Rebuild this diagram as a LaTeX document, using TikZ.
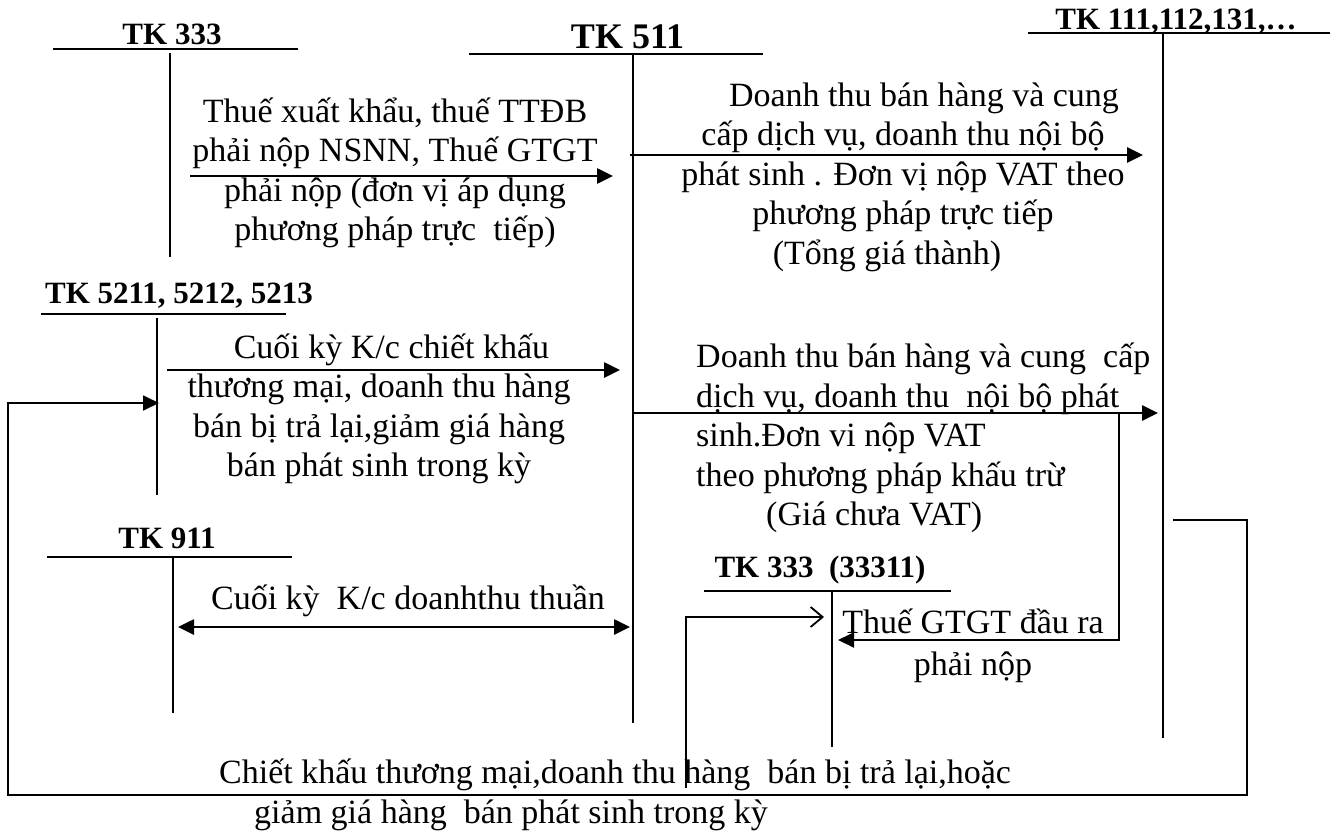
\documentclass[tikz,border=0pt]{standalone}
\usepackage{fontspec}
\setmainfont{Liberation Serif}
\usetikzlibrary{arrows.meta}
\begin{document}
\begin{tikzpicture}[x=1pt,y=-1pt,
  tline/.style={line width=2.6pt},
  aline/.style={line width=2.6pt,-{Triangle[length=16pt,width=15pt]}},
  dline/.style={line width=2.6pt,{Triangle[length=16pt,width=15pt]}-{Triangle[length=16pt,width=15pt]}},
  thinline/.style={line width=1.8pt},
  title/.style={font=\fontsize{31}{36}\selectfont\bfseries,anchor=base,inner sep=0pt},
  body/.style={font=\fontsize{34}{39.5}\selectfont,inner sep=0pt},
]
\useasboundingbox (0,0) rectangle (1331,832);

% ---- account titles
\node[title] (t333) at (172,45) {TK 333};
\node[title,font=\fontsize{36}{40}\selectfont\bfseries] (t511) at (627.5,49) {TK 511};
\node[title] (t111) at (1176,30) {TK 111,112,131,…};
\node[title] (t521) at (179,303) {TK 5211, 5212, 5213};
\node[title] (t911) at (167,548) {TK 911};
\node[title] (t3331) at (820,577) {TK 333\ \ (33311)};

% ---- T-account lines
\coordinate (u333a) at (53,49);   \coordinate (u333b) at (298,49);
\coordinate (v333a) at (170,53);  \coordinate (v333b) at (170,257);
\coordinate (u511a) at (469,54);  \coordinate (u511b) at (763,54);
\coordinate (v511a) at (633,55);  \coordinate (v511b) at (633,723);
\coordinate (u111a) at (1028,33); \coordinate (u111b) at (1330,33);
\coordinate (v111a) at (1163,34); \coordinate (v111b) at (1163,738);
\coordinate (u521a) at (41,314);  \coordinate (u521b) at (286,314);
\coordinate (v521a) at (157,318); \coordinate (v521b) at (157,495);
\coordinate (u911a) at (47,557);  \coordinate (u911b) at (292,557);
\coordinate (v911a) at (173,557); \coordinate (v911b) at (173,713);
\coordinate (u3331a) at (704,591); \coordinate (u3331b) at (951,591);
\coordinate (v3331a) at (832,591); \coordinate (v3331b) at (832,747);

\draw[tline] (u333a) -- (u333b);  \draw[tline] (v333a) -- (v333b);
\draw[tline] (u511a) -- (u511b);  \draw[tline] (v511a) -- (v511b);
\draw[tline] (u111a) -- (u111b);  \draw[tline] (v111a) -- (v111b);
\draw[tline] (u521a) -- (u521b);  \draw[tline] (v521a) -- (v521b);
\draw[tline] (u911a) -- (u911b);  \draw[tline] (v911a) -- (v911b);
\draw[tline] (u3331a) -- (u3331b); \draw[tline] (v3331a) -- (v3331b);

% ---- arrows
\coordinate (a1s) at (190,176);  \coordinate (a1e) at (613,176);
\coordinate (a2s) at (630,155);  \coordinate (a2e) at (1143,155);
\coordinate (a3s) at (167,370);  \coordinate (a3e) at (620,370);
\coordinate (a4s) at (633,413);  \coordinate (a4e) at (1158,413);
\coordinate (a5s) at (178,627);  \coordinate (a5e) at (630,627);
\coordinate (a6s) at (1119,413); \coordinate (a6c) at (1119,640); \coordinate (a6e) at (838,640);
\coordinate (l1) at (1173,520); \coordinate (l2) at (1247,520); \coordinate (l3) at (1247,795);
\coordinate (l4) at (8,795);    \coordinate (l5) at (8,403);    \coordinate (l6) at (159,403);
\coordinate (b1) at (686,788);  \coordinate (b2) at (686,617);  \coordinate (b3) at (824,617);

\draw[aline] (a1s) -- (a1e);
\draw[aline] (a2s) -- (a2e);
\draw[aline] (a3s) -- (a3e);
\draw[aline] (a4s) -- (a4e);
\draw[dline] (a5s) -- (a5e);
\draw[line width=2pt,-{Triangle[length=16pt,width=15pt]}] (a6s) -- (a6c) -- (a6e);
\draw[thinline,-{Triangle[length=16pt,width=15pt]}] (l1) -- (l2) -- (l3) -- (l4) -- (l5) -- (l6);
\draw[thinline,-{Straight Barb[length=12pt,width=20pt,line width=1.8pt]}] (b1) -- (b2) -- (b3);

% ---- texts
\node[body,align=center] (x1) at (395,173)
  {Thuế xuất khẩu, thuế TTĐB\\phải nộp NSNN, Thuế GTGT\\phải nộp (đơn vị áp dụng\\phương pháp trực\ \ tiếp)};
\node[body,align=center] (x2) at (903,177)
  {\hspace*{42pt}Doanh thu bán hàng và cung\\cấp dịch vụ, doanh thu nội bộ\\phát sinh . Đơn vị nộp VAT theo\\phương pháp trực tiếp\\(Tổng giá thành)\hspace*{32pt}};
\node[body,align=center] (x3) at (379,409)
  {\hspace*{25pt}Cuối kỳ K/c chiết khấu\\thương mại, doanh thu hàng\\bán bị trả lại,giảm giá hàng\\bán phát sinh trong kỳ};
\node[body,align=left,anchor=west] (x4) at (696,438)
  {Doanh thu bán hàng và cung\ \ cấp\\dịch vụ, doanh thu\ \ nội bộ phát\\sinh.Đơn vi nộp VAT\\theo phương pháp khấu trừ\\\hspace*{70pt}(Giá chưa VAT)};
\node[body] (x5) at (408,601) {Cuối kỳ\ \ K/c doanhthu thuần};
\node[body,align=center,font=\fontsize{34}{42}\selectfont] (x6) at (973,646) {Thuế GTGT đầu ra\\phải nộp};
\node[body,align=left,anchor=west] (x7) at (219,795)
  {Chiết khấu thương mại,doanh thu hàng\ \ bán bị trả lại,hoặc\\\hspace*{35pt}giảm giá hàng\ \ bán phát sinh trong kỳ};
\end{tikzpicture}
\end{document}
